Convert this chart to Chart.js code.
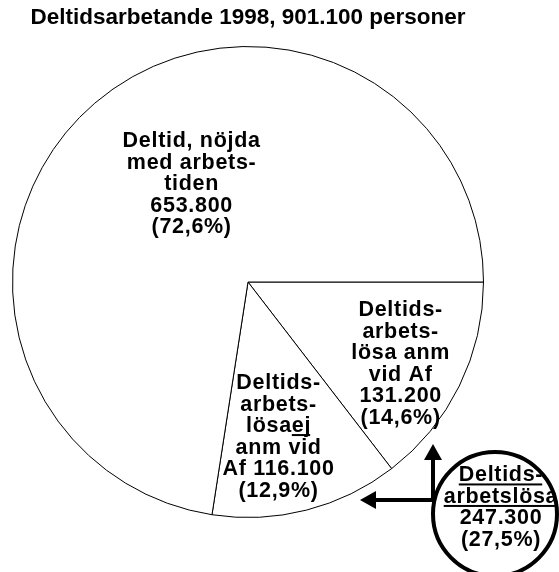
<!DOCTYPE html>
<html>
<head>
<meta charset="utf-8">
<script src="https://cdn.jsdelivr.net/npm/chart.js@4/dist/chart.umd.min.js"></script>
<style>
  html, body { margin: 0; padding: 0; background: #fff; }
  canvas { display: block; }
</style>
</head>
<body>
<canvas id="pieChart" width="559" height="572"></canvas>
<script>
var titleText = "Deltidsarbetande 1998, 901.100 personer";

// slices in drawing order, clockwise from 3 o'clock
var categories = [
    "Deltidsarbetslösa anm vid Af",
    "Deltidsarbetslösa ej anm vid Af",
    "Deltid, nöjda med arbetstiden"
];
var persons = [131200, 116100, 653800];

// text inside each slice, "_" toggles underline
var sliceLabels = [
    ["Deltids-", "arbets-", "lösa anm", "vid Af", "131.200", "(14,6%)"],
    ["Deltids-", "arbets-", "lösa_ej_", "anm vid", "Af 116.100", "(12,9%)"],
    ["Deltid, nöjda", "med arbets-", "tiden", "653.800", "(72,6%)"]
];

// the circled total for the two unemployed groups
var totalLabel = ["_Deltids-_", "_arbetslösa_", "247.300", "(27,5%)"];

var labelFont = "bold 21.5px 'Liberation Sans', Arial, sans-serif";
var lineStep = 21.5;

// draw one line of text centered on x, cap middle at y
function drawLine(ctx, text, x, y) {
    var parts = text.split("_");
    ctx.font = labelFont;
    ctx.letterSpacing = "0.7px";
    var widths = parts.map(function (p) { return ctx.measureText(p).width; });
    var total = widths.reduce(function (a, b) { return a + b; }, 0);
    var left = x - total / 2;
    var base = y + 7.7;
    ctx.textAlign = "left";
    ctx.textBaseline = "alphabetic";
    ctx.fillStyle = "#000";
    parts.forEach(function (p, i) {
        ctx.fillText(p, left, base);
        if (i % 2 === 1 && p.length) {
            ctx.fillRect(left, base + 2, widths[i] - 1, 2);
        }
        left += widths[i];
    });
}

function drawBlock(ctx, lines, x, y) {
    var n = lines.length;
    lines.forEach(function (line, i) {
        drawLine(ctx, line, x, y + (i - (n - 1) / 2) * lineStep);
    });
}

var sliceTextPlugin = {
    id: "sliceText",
    afterDatasetsDraw: function (chart, args, opts) {
        var ctx = chart.ctx;
        var arcs = chart.getDatasetMeta(0).data;
        ctx.save();
        arcs.forEach(function (arc, i) {
            var place = opts.placement[i];
            var mid = (arc.startAngle + arc.endAngle) / 2 + place.shift * Math.PI / 180;
            var r = arc.outerRadius * place.radius;
            drawBlock(ctx, sliceLabels[i], arc.x + Math.cos(mid) * r, arc.y + Math.sin(mid) * r);
        });
        ctx.restore();
    }
};

var totalBubblePlugin = {
    id: "totalBubble",
    afterDraw: function (chart) {
        var ctx = chart.ctx;
        var a = chart.chartArea;
        var bx = a.left + 483, by = a.top + 468;
        ctx.save();
        // bent arrow pointing at the two unemployed slices
        ctx.strokeStyle = "#000";
        ctx.fillStyle = "#000";
        ctx.lineWidth = 4;
        ctx.lineJoin = "miter";
        ctx.beginPath();
        ctx.moveTo(a.left + 421, a.top + 412);
        ctx.lineTo(a.left + 421, a.top + 454);
        ctx.lineTo(a.left + 362, a.top + 454);
        ctx.stroke();
        ctx.beginPath();
        ctx.moveTo(a.left + 421, a.top + 398);
        ctx.lineTo(a.left + 412, a.top + 414);
        ctx.lineTo(a.left + 430, a.top + 414);
        ctx.closePath();
        ctx.fill();
        ctx.beginPath();
        ctx.moveTo(a.left + 348, a.top + 454);
        ctx.lineTo(a.left + 364, a.top + 445);
        ctx.lineTo(a.left + 364, a.top + 463);
        ctx.closePath();
        ctx.fill();
        // circle with the total
        ctx.beginPath();
        ctx.ellipse(bx, by, 62, 62, 0, 0, Math.PI * 2);
        ctx.fillStyle = "#fff";
        ctx.fill();
        ctx.lineWidth = 4;
        ctx.stroke();
        drawBlock(ctx, totalLabel, bx + 6, by - 8);
        ctx.restore();
    }
};

document.addEventListener("DOMContentLoaded", function () {
    var ctx = document.getElementById("pieChart").getContext("2d");

    var pieChart = new Chart(ctx, {
        type: "pie",
        data: {
            labels: categories,
            datasets: [{
                data: persons,
                backgroundColor: "#ffffff",
                borderColor: "#000000",
                borderWidth: 1
            }]
        },
        options: {
            responsive: false,
            animation: false,
            rotation: 90,
            layout: {
                padding: { top: 0, left: 12, right: 75, bottom: 54 }
            },
            plugins: {
                legend: { display: false },
                tooltip: { enabled: false },
                title: {
                    display: true,
                    text: titleText,
                    color: "#000",
                    font: { family: "'Liberation Sans', Arial, sans-serif", size: 22.5, weight: "bold" },
                    padding: { top: 4, bottom: 15 }
                },
                sliceText: {
                    placement: [
                        { radius: 0.733, shift: 1.6 },
                        { radius: 0.663, shift: 3.1 },
                        { radius: 0.486, shift: 11.1 }
                    ]
                }
            }
        },
        plugins: [sliceTextPlugin, totalBubblePlugin]
    });
});
</script>
</body>
</html>
